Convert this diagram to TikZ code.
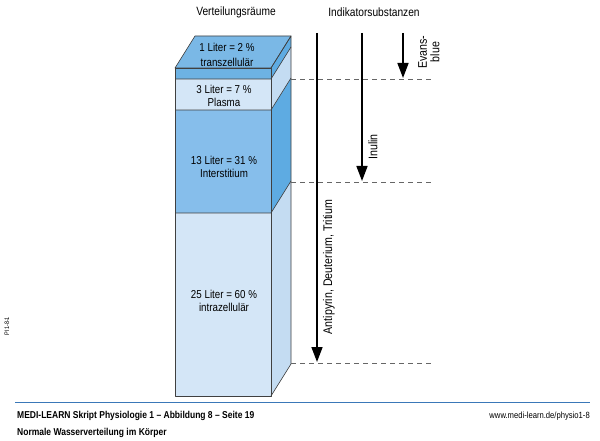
\documentclass[tikz,border=0pt]{standalone}
\usepackage{fontspec}
\setmainfont{Liberation Sans}[FakeStretch=0.85]
\usetikzlibrary{arrows.meta}
\definecolor{lightb}{HTML}{D4E6F7}
\definecolor{lightside}{HTML}{C4DCF2}
\definecolor{midb}{HTML}{86BEEB}
\definecolor{midside}{HTML}{5EABE2}
\definecolor{topb}{HTML}{7AB8E6}
\definecolor{bandb}{HTML}{6DB2E3}
\definecolor{edgec}{HTML}{404040}
\definecolor{rulec}{HTML}{3A78B8}
\tikzset{
  face/.style={draw=edgec, line width=0.6pt, line join=round},
  lbl/.style={font=\fontsize{11.5}{13}\selectfont, inner sep=0pt},
  title/.style={font=\fontsize{12}{14}\selectfont, inner sep=0pt},
  indarrow/.style={line width=1.6pt, -{Triangle[length=15pt,width=11pt]}},
  guide/.style={dashed, dash pattern=on 5pt off 4pt, draw=gray!80!black, line width=0.7pt},
  vlbl/.style={font=\fontsize{12.5}{12.5}\selectfont, inner sep=0pt, rotate=90, align=center},
  foot/.style={font=\bfseries\fontsize{10}{12}\selectfont, inner sep=0pt, anchor=west},
}
\begin{document}
\begin{tikzpicture}[x=1pt,y=-1pt]
\useasboundingbox (0,0) rectangle (600,441);
% front faces
\fill[lightb] (175,213) rectangle (271,396);
\fill[midb] (175,110) rectangle (271,213);
\fill[lightb] (175,79) rectangle (271,110);
\fill[bandb] (175,68) rectangle (271,79);
% side faces
\fill[lightside] (271,213) -- (291,181) -- (291,364) -- (271,396) -- cycle;
\fill[midside] (271,110) -- (291,78) -- (291,181) -- (271,213) -- cycle;
\fill[lightside] (271,79) -- (291,47) -- (291,78) -- (271,110) -- cycle;
\fill[midside] (271,68) -- (291,36) -- (291,47) -- (271,79) -- cycle;
% top face
\fill[topb] (175,68) -- (195,36) -- (291,36) -- (271,68) -- cycle;
% outlines
\draw[face] (175,68) -- (195,36) -- (291,36) -- (271,68) -- cycle;
\draw[face] (175,68) rectangle (271,396);
\draw[face] (271,68) -- (291,36) -- (291,364) -- (271,396);
\draw[face] (175,79) -- (271,79) -- (291,47);
\draw[face] (175,110) -- (271,110) -- (291,78);
\draw[face] (175,213) -- (271,213) -- (291,181);
% labels in box
\node[lbl] (t1) at (227,47) {1 Liter = 2 \%};
\node[lbl] (t2) at (227,62) {transzellulär};
\node[lbl] (p1) at (224,89) {3 Liter = 7 \%};
\node[lbl] (p2) at (224,102) {Plasma};
\node[lbl] (i1) at (224,160) {13 Liter = 31 \%};
\node[lbl] (i2) at (224,173) {Interstitium};
\node[lbl] (z1) at (224,294) {25 Liter = 60 \%};
\node[lbl] (z2) at (224,307) {intrazellulär};
% titles
\node[title] (vr) at (236,12) {Verteilungsräume};
\node[title] (ind) at (374,12) {Indikatorsubstanzen};
% dashed guide lines
\coordinate (g1a) at (291,79); \coordinate (g1b) at (433,79);
\coordinate (g2a) at (291,182); \coordinate (g2b) at (433,182);
\coordinate (g3a) at (291,363); \coordinate (g3b) at (433,363);
\draw[guide] (g1a) -- (g1b);
\draw[guide] (g2a) -- (g2b);
\draw[guide] (g3a) -- (g3b);
% arrows
\coordinate (a1s) at (317,33); \coordinate (a1e) at (317,362);
\coordinate (a2s) at (362,33); \coordinate (a2e) at (362,181);
\coordinate (a3s) at (403,33); \coordinate (a3e) at (403,78);
\draw[indarrow] (a1s) -- (a1e);
\draw[indarrow] (a2s) -- (a2e);
\draw[indarrow] (a3s) -- (a3e);
\node[vlbl] (evans) at (429,52) {Evans-\\blue};
\node[vlbl] (inulin) at (373,147) {Inulin};
\node[vlbl] (anti) at (329,267) {Antipyrin, Deuterium, Tritium};
% side code
\node[font=\fontsize{6.5}{7}\selectfont, rotate=90, inner sep=0pt] (code) at (7,326) {PI1-8-1};
% footer
\draw[rulec, line width=1pt] (15,402) -- (590,402);
\node[foot] (f1) at (17,416) {MEDI-LEARN Skript Physiologie 1 – Abbildung 8 – Seite 19};
\node[foot] (f2) at (17,433) {Normale Wasserverteilung im Körper};
\node[font=\fontsize{9}{10}\selectfont, inner sep=0pt, anchor=east] (url) at (590,416) {www.medi-learn.de/physio1-8};
\end{tikzpicture}
\end{document}
